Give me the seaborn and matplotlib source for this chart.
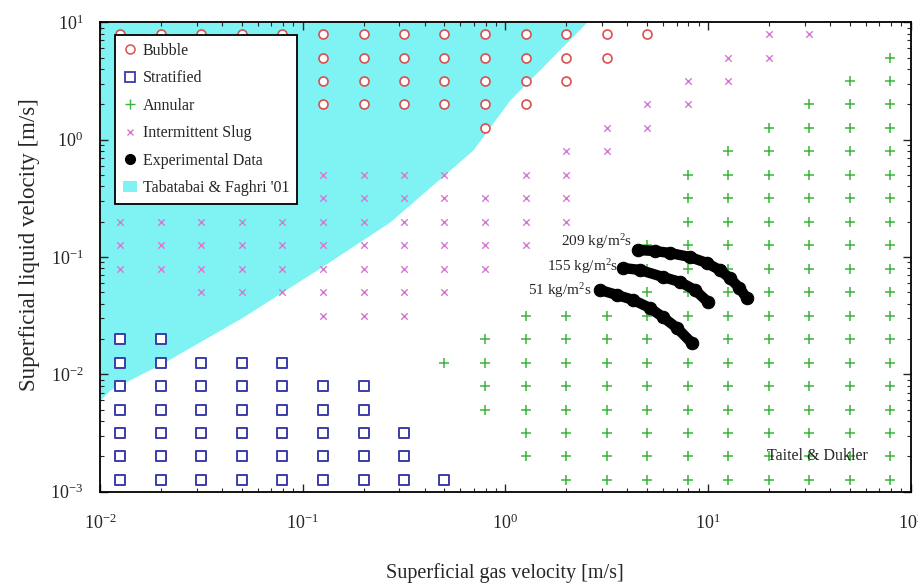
import numpy as np
import pandas as pd
import matplotlib
matplotlib.use("Agg")
import matplotlib.pyplot as plt
import seaborn as sns
from matplotlib.lines import Line2D
from matplotlib.patches import Patch

# ---------------- data ----------------
gas_velocity = [0.0126, 0.02, 0.0316, 0.05, 0.0794, 0.126, 0.2, 0.316, 0.5, 0.794,
                1.26, 2.0, 3.16, 5.0, 7.94, 12.6, 20.0, 31.6, 50.0, 79.4]
liquid_velocity = [7.94, 5.0, 3.16, 2.0, 1.26, 0.794, 0.5, 0.316, 0.2, 0.126,
                   0.0794, 0.05, 0.0316, 0.02, 0.0126, 0.00794, 0.005, 0.00316, 0.002, 0.00126]
# regime map, one string per liquid velocity (top to bottom), one char per gas velocity
# B = Bubble, S = Stratified, A = Annular, I = Intermittent Slug, . = none
regime_rows = [
    "BBBBBBBBBBBBBB..II..",
    "BBBBBBBBBBBBB..II..A",
    "BBBBBBBBBBBB..II..AA",
    "BBBBBBBBBBB..II..AAA",
    ".........B..II..AAAA",
    "...........II..AAAAA",
    "IIIIIIIII.II..AAAAAA",
    "IIIIIIIIIIII..AAAAAA",
    "IIIIIIIIIIII..AAAAAA",
    "IIIIIIIIIII..AAAAAAA",
    "IIIIIIIIII...AAAAAAA",
    "..IIIIIII...AAAAAAAA",
    ".....III..AAAAAAAAAA",
    "SS.......AAAAAAAAAAA",
    "SSSSS...AAAAAAAAAAAA",
    "SSSSSSS..AAAAAAAAAAA",
    "SSSSSSS..AAAAAAAAAAA",
    "SSSSSSSS..AAAAAAAAAA",
    "SSSSSSSS..AAAAAAAAAA",
    "SSSSSSSSS..AAAAAAAAA",
]
regime_codes = ["B", "S", "A", "I"]
regime_names = ["Bubble", "Stratified", "Annular", "Intermittent Slug"]

# experimental data (mass flux curves)
exp_209_x = [4.51, 5.46, 6.48, 8.13, 9.86, 11.4, 12.8, 14.3, 15.5]
exp_209_y = [0.1146, 0.1124, 0.1081, 0.100, 0.0889, 0.0775, 0.0662, 0.0544, 0.0448]
exp_155_x = [3.80, 4.61, 5.98, 7.26, 8.61, 9.98]
exp_155_y = [0.0806, 0.0775, 0.0676, 0.0613, 0.0524, 0.0414]
exp_51_x = [2.92, 3.55, 4.26, 5.16, 5.98, 7.02, 8.32]
exp_51_y = [0.0524, 0.0475, 0.0431, 0.0368, 0.0308, 0.0249, 0.0185]
exp_labels = ["209 kg/m$^2$s", "155 kg/m$^2$s", "51 kg/m$^2$s"]
exp_label_x = [4.21, 3.59, 2.67]
exp_label_y = [0.134, 0.0822, 0.0514]

# Tabatabai & Faghri '01 boundary (region above is shaded)
tf_x = [0.01, 0.0112, 0.0205, 0.0507, 0.1216, 0.269, 0.692, 1.052, 2.52]
tf_y = [0.00603, 0.00738, 0.01253, 0.0308, 0.0805, 0.1986, 0.815, 2.17, 10.0]

# ---------------- build table ----------------
recs = []
for r, row in enumerate(regime_rows):
    for c, ch in enumerate(row):
        if ch in regime_codes:
            recs.append({"gas": gas_velocity[c], "liquid": liquid_velocity[r],
                         "regime": regime_names[regime_codes.index(ch)]})
df = pd.DataFrame(recs)

# ---------------- style ----------------
sns.set_style("ticks")
plt.rcParams["font.family"] = ["Liberation Serif", "DejaVu Serif"]
plt.rcParams["mathtext.fontset"] = "custom"
plt.rcParams["mathtext.rm"] = "Liberation Serif"
plt.rcParams["mathtext.it"] = "Liberation Serif:italic"
plt.rcParams["mathtext.bf"] = "Liberation Serif:bold"

CYAN = "#7ff3f3"
RED = "#d85050"
BLUE = "#3c3caa"
GREEN = "#3cb43c"
MAGENTA = "#d47ad4"

fig, ax = plt.subplots(figsize=(9.18, 5.84), dpi=100)
fig.subplots_adjust(left=0.109, right=0.992, bottom=0.158, top=0.962)
ax.set_xscale("log")
ax.set_yscale("log")

ax.fill_between(tf_x, tf_y, 10, color=CYAN, lw=0, zorder=0)

styles = {
    "Bubble": dict(marker="o", s=42, color=RED, facecolor="white", edgecolor=RED, linewidth=1.2),
    "Stratified": dict(marker="s", s=48, color=BLUE, facecolor="white", edgecolor=BLUE, linewidth=1.4),
    "Annular": dict(marker="+", s=60, color=GREEN, linewidth=1.1),
    "Intermittent Slug": dict(marker="x", s=22, color=MAGENTA, linewidth=1.0),
}
for name in regime_names:
    sub = df[df["regime"] == name]
    sns.scatterplot(data=sub, x="gas", y="liquid", ax=ax, legend=False, zorder=3, **styles[name])

for xs, ys in [(exp_209_x, exp_209_y), (exp_155_x, exp_155_y), (exp_51_x, exp_51_y)]:
    sns.lineplot(x=xs, y=ys, ax=ax, sort=False, estimator=None, color="black",
                 linewidth=7.5, solid_capstyle="round", marker="o", markersize=9,
                 markeredgecolor="black", zorder=4)

for lab, lx, ly in zip(exp_labels, exp_label_x, exp_label_y):
    ax.text(lx, ly, lab, ha="right", va="center", fontsize=11, zorder=5)

ax.text(0.947, 0.077, "Taitel & Dukler", transform=ax.transAxes, ha="right",
        va="center", fontsize=11.5, zorder=5)

ax.set_xlim(0.01, 100)
ax.set_ylim(0.001, 10)
ax.set_xlabel("Superficial gas velocity [m/s]", fontsize=14.5)
ax.set_ylabel("Superficial liquid velocity [m/s]", fontsize=16.5)
ax.xaxis.set_label_coords(0.4995, -0.152)
ax.yaxis.set_label_coords(-0.074, 0.526)
ax.tick_params(which="both", direction="in", top=True, right=True, labelsize=13)
ax.tick_params(axis="x", which="major", length=6, width=1.0, pad=16)
ax.tick_params(axis="y", which="major", length=6, width=1.0, pad=12)
ax.tick_params(which="minor", length=3, width=0.8)
for sp in ax.spines.values():
    sp.set_linewidth(1.3)
    sp.set_color("black")

handles = [
    Line2D([], [], ls="none", marker="o", ms=6.5, mfc="white", mec=RED, mew=1.1),
    Line2D([], [], ls="none", marker="s", ms=7, mfc="white", mec=BLUE, mew=1.3),
    Line2D([], [], ls="none", marker="+", ms=7, color=GREEN, mew=1.0),
    Line2D([], [], ls="none", marker="x", ms=5, color=MAGENTA, mew=1.0),
    Line2D([], [], ls="none", marker="o", ms=7, color="black"),
    Patch(facecolor=CYAN, edgecolor="none"),
]
labels = ["Bubble", "Stratified", "Annular", "Intermittent Slug",
          "Experimental Data", "Tabatabai & Faghri '01"]
leg = ax.legend(handles, labels, loc="upper left", bbox_to_anchor=(0.018, 0.973),
                borderaxespad=0, fancybox=False, framealpha=1, edgecolor="black",
                fontsize=11.5, handlelength=0.9, handletextpad=0.35, labelspacing=0.72,
                borderpad=0.5)
leg.get_frame().set_linewidth(1.3)
leg.set_zorder(10)

fig.savefig("out.png", dpi=100)
